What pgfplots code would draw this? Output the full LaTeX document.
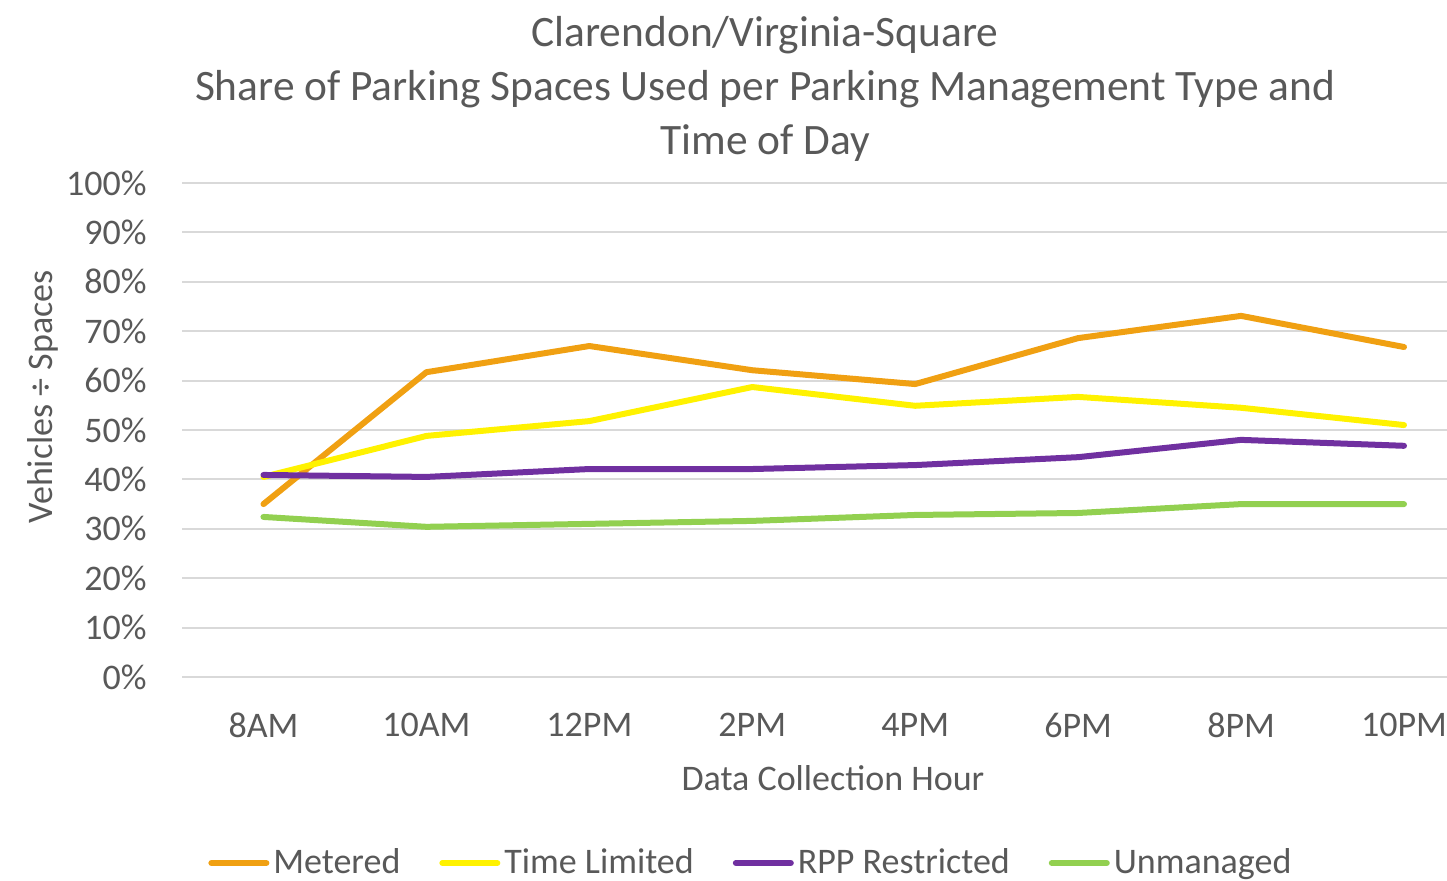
\documentclass[border=0pt]{standalone}
\usepackage{fontspec}
\setmainfont{Carlito}
\usepackage{pgfplots}
\pgfplotsset{compat=1.18}

\definecolor{txt}{HTML}{595959}
\definecolor{gridc}{HTML}{D9D9D9}
\definecolor{metered}{HTML}{F0A012}
\definecolor{timelim}{HTML}{FFF200}
\definecolor{rpp}{HTML}{7030A0}
\definecolor{unman}{HTML}{92D050}

\begin{document}
\begin{tikzpicture}
\useasboundingbox (0,0) rectangle (723.5bp,440.5bp);
\clip (0,0) rectangle (723.5bp,440.5bp);

% title
\node[text=txt, align=center, font=\fontsize{21.7bp}{27bp}\selectfont] at (382.5bp,396bp)
  {Clarendon/Virginia-Square\\Share of Parking Spaces Used per Parking Management Type and\\Time of Day};

\begin{axis}[
  at={(91bp,102bp)}, anchor=south west,
  scale only axis, width=632.5bp, height=247bp,
  xmin=-0.5, xmax=7.264, ymin=0, ymax=100,
  xtick={0,...,7},
  xticklabels={8AM,10AM,12PM,2PM,4PM,6PM,8PM,10PM},
  ytick={0,10,...,100},
  yticklabels={0\%,10\%,20\%,30\%,40\%,50\%,60\%,70\%,80\%,90\%,100\%},
  axis line style={draw=none}, tick style={draw=none},
  major tick length=0pt,
  ymajorgrids, grid style={gridc, line width=1bp},
  ticklabel style={text=txt, font=\fontsize{18bp}{22bp}\selectfont, inner sep=0pt},
  xticklabel style={anchor=center, yshift=-24bp},
  yticklabel style={anchor=east, xshift=-17.5bp},
  xlabel={Data Collection Hour},
  ylabel={Vehicles ÷ Spaces},
  label style={text=txt, font=\fontsize{18bp}{22bp}\selectfont},
  xlabel style={at={(axis description cs:0.5146,-0.2045)}, anchor=center, inner sep=0pt},
  ylabel style={at={(axis description cs:-0.1099,0.567)}, anchor=center, rotate=0, inner sep=0pt},
  legend style={at={(axis description cs:0.4505,-0.3765)}, anchor=center,
    legend columns=4, draw=none, fill=none, text=txt,
    font=\fontsize{18bp}{22bp}\selectfont,
    /tikz/every even column/.append style={column sep=17.5bp},
    inner sep=0pt},
  legend cell align=left,
  legend image code/.code={\draw[#1, line width=3bp] (0bp,0bp) -- (27.5bp,0bp);},
  every axis plot/.append style={line width=3bp, line cap=round, line join=round, mark=none},
  clip=false,
]
\addplot[metered] coordinates {(0,35.0)(1,61.7)(2,67.0)(3,62.1)(4,59.3)(5,68.6)(6,73.1)(7,66.8)};
\addplot[timelim] coordinates {(0,40.5)(1,48.8)(2,51.8)(3,58.7)(4,54.9)(5,56.7)(6,54.5)(7,51.0)};
\addplot[rpp] coordinates {(0,40.9)(1,40.5)(2,42.1)(3,42.1)(4,42.9)(5,44.5)(6,48.0)(7,46.8)};
\addplot[unman] coordinates {(0,32.4)(1,30.4)(2,31.0)(3,31.6)(4,32.8)(5,33.2)(6,35.0)(7,35.0)};
\legend{Metered,Time Limited,RPP Restricted,Unmanaged}
\end{axis}
\end{tikzpicture}
\end{document}
